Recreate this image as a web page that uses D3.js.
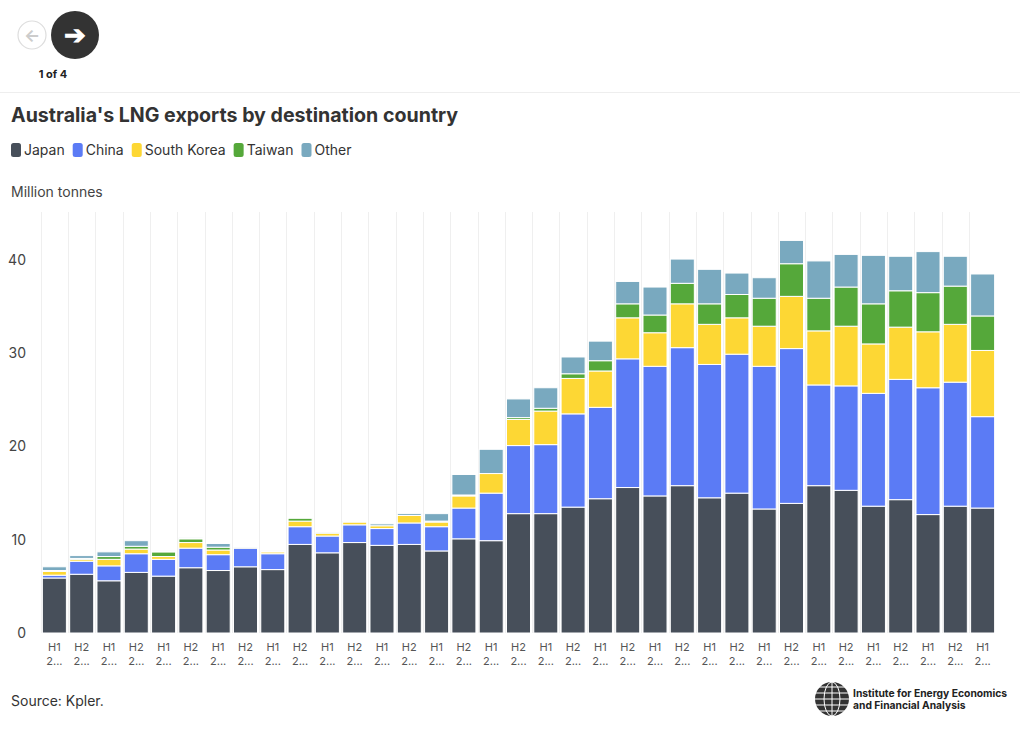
<!DOCTYPE html>
<html>
<head>
<meta charset="utf-8">
<script src="https://d3js.org/d3.v7.min.js"></script>
<style>
body { margin: 0; font-family: Inter, "Noto Sans", sans-serif; background: #fff; }
</style>
</head>
<body>
<script>
var periods = [];
for (var yr = 2007; yr <= 2024; yr++) {
	periods.push("H1 " + yr);
	if (yr < 2024) periods.push("H2 " + yr);
}
var series = ["Japan", "China", "South Korea", "Taiwan", "Other"];
var colors = ["#474f5a", "#5b7bf5", "#fdd734", "#55a83a", "#79a9bf"];

var japan  = [5.9,6.3,5.6,6.5,6.1,7.0,6.7,7.1,6.8,9.5,8.6,9.7,9.4,9.5,8.8,10.1,9.9,12.8,12.8,13.5,14.4,15.6,14.7,15.8,14.5,15.0,13.3,13.9,15.8,15.3,13.6,14.3,12.7,13.6,13.4];
var china  = [0.3,1.4,1.6,2.0,1.8,2.1,1.7,2.0,1.7,1.9,1.8,1.9,1.8,2.3,2.6,3.3,5.1,7.3,7.4,10.0,9.8,13.8,13.9,14.8,14.3,14.9,15.3,16.6,10.8,11.2,12.1,12.9,13.6,13.3,9.8];
var korea  = [0.4,0.2,0.7,0.5,0.3,0.6,0.5,0.1,0.2,0.6,0.3,0.3,0.3,0.8,0.5,1.3,2.1,2.8,3.6,3.8,3.9,4.4,3.6,4.7,4.3,3.9,4.3,5.6,5.8,6.4,5.3,5.6,6.0,6.2,7.1];
var taiwan = [0.1,0.1,0.3,0.3,0.5,0.4,0.3,0.0,0.0,0.3,0.1,0.0,0.0,0.0,0.1,0.1,0.0,0.2,0.3,0.5,1.1,1.5,1.9,2.2,2.2,2.5,3.0,3.5,3.5,4.2,4.3,3.9,4.2,4.1,3.7];
var other  = [0.4,0.3,0.5,0.6,0.1,0.1,0.4,0.1,0.1,0.0,0.1,0.1,0.2,0.2,0.8,2.2,2.6,2.0,2.2,1.8,2.1,2.4,3.0,2.6,3.7,2.3,2.2,2.5,4.0,3.5,5.2,3.7,4.4,3.2,4.5];
var yTicks = [0, 10, 20, 30, 40];

var W = 1020, H = 730;
var svg = d3.select("body").append("svg").attr("width", W).attr("height", H);

// nav buttons
svg.append("circle").attr("cx", 32).attr("cy", 35).attr("r", 14).attr("fill", "#fff").attr("stroke", "#ddd").attr("stroke-width", 1.2);
svg.append("text").attr("x", 32).attr("y", 41).attr("text-anchor", "middle").attr("font-size", 17).attr("fill", "#ccc").attr("font-weight", 700).text("←");
svg.append("circle").attr("cx", 75).attr("cy", 35).attr("r", 24).attr("fill", "#333");
svg.append("text").attr("x", 75).attr("y", 44).attr("text-anchor", "middle").attr("font-size", 26).attr("fill", "#fff").attr("font-weight", 900).text("➔");
svg.append("text").attr("x", 53).attr("y", 78).attr("text-anchor", "middle").attr("font-size", 11).attr("font-weight", 700).attr("fill", "#222").text("1 of 4");
svg.append("line").attr("x1", 0).attr("x2", W).attr("y1", 92.5).attr("y2", 92.5).attr("stroke", "#eee");

svg.append("text").attr("x", 11).attr("y", 122).attr("font-size", 19.6).attr("font-weight", 700).attr("fill", "#333")
	.text("Australia's LNG exports by destination country");

// legend
var lx = 11;
series.forEach(function(s, i) {
	svg.append("rect").attr("x", lx).attr("y", 143).attr("width", 10).attr("height", 14).attr("rx", 2.5).attr("fill", colors[i]);
	var t = svg.append("text").attr("x", lx + 13).attr("y", 155).attr("font-size", 14).attr("fill", "#333").text(s);
	lx += 13 + t.node().getComputedTextLength() + 8;
});

svg.append("text").attr("x", 11).attr("y", 197).attr("font-size", 14).attr("fill", "#444").text("Million tonnes");

var rows = periods.map(function(p, i) {
	return { period: p, Japan: japan[i], China: china[i], "South Korea": korea[i], Taiwan: taiwan[i], Other: other[i] };
});
var stack = d3.stack().keys(series)(rows);

var x = d3.scaleBand().domain(periods).range([41, 996]).paddingInner(0.12).paddingOuter(0.05);
var y = d3.scaleLinear().domain([0, 40]).range([633, 260]);

// vertical grid lines
svg.append("g").selectAll("line").data(periods).join("line")
	.attr("x1", function(d) { return Math.round(x(d) - x.step() * 0.06) + 0.5; })
	.attr("x2", function(d) { return Math.round(x(d) - x.step() * 0.06) + 0.5; })
	.attr("y1", 212).attr("y2", 633).attr("stroke", "#efefef");

svg.append("g").selectAll("g").data(stack).join("g")
	.attr("fill", function(d, i) { return colors[i]; })
	.selectAll("rect").data(function(d) { return d; }).join("rect")
	.attr("x", function(d) { return x(d.data.period); })
	.attr("width", x.bandwidth())
	.attr("y", function(d) { return y(d[1]); })
	.attr("height", function(d) { return Math.max(0, y(d[0]) - y(d[1])); })
	.attr("stroke", "#fff").attr("stroke-width", 1);

var yAxis = svg.append("g").attr("transform", "translate(29,0)")
	.call(d3.axisLeft(y).tickValues(yTicks).tickSize(0));
yAxis.select(".domain").remove();
yAxis.selectAll("text").attr("font-size", 14).attr("fill", "#444").attr("font-family", "Inter");

var xl = svg.append("g").selectAll("text").data(periods).join("text")
	.attr("text-anchor", "middle").attr("font-size", 11).attr("fill", "#555")
	.attr("x", function(d) { return x(d) + x.bandwidth() / 2; });
xl.append("tspan").attr("y", 651).attr("x", function(d) { return x(d) + x.bandwidth() / 2; }).text(function(d) { return d.split(" ")[0]; });
xl.append("tspan").attr("y", 665).attr("x", function(d) { return x(d) + x.bandwidth() / 2; }).text(function(d) { return d.split(" ")[1].charAt(0) + "..."; });

svg.append("text").attr("x", 11).attr("y", 706).attr("font-size", 14).attr("fill", "#333").text("Source: Kpler.");

// logo
var lg = svg.append("g").attr("transform", "translate(832,699)");
lg.append("circle").attr("r", 17).attr("fill", "#333");
[-12, -6, 0, 6, 12].forEach(function(o) {
	lg.append("line").attr("x1", -17).attr("x2", 17).attr("y1", o).attr("y2", o).attr("stroke", "#fff").attr("stroke-width", 1);
});
lg.append("ellipse").attr("rx", 8).attr("ry", 17).attr("fill", "none").attr("stroke", "#fff").attr("stroke-width", 1);
lg.append("line").attr("x1", 0).attr("x2", 0).attr("y1", -17).attr("y2", 17).attr("stroke", "#fff");
svg.append("text").attr("x", 853).attr("y", 697).attr("font-size", 10.3).attr("font-weight", 700).attr("fill", "#222").text("Institute for Energy Economics");
svg.append("text").attr("x", 853).attr("y", 709).attr("font-size", 10.3).attr("font-weight", 700).attr("fill", "#222").text("and Financial Analysis");
</script>
</body>
</html>
